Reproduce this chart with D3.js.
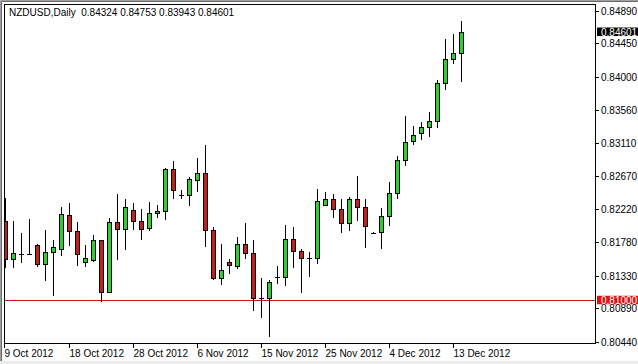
<!DOCTYPE html>
<html><head><meta charset="utf-8">
<script src="https://cdn.jsdelivr.net/npm/d3@7"></script>
<style>body{margin:0;background:#fff}svg{display:block}</style>
</head><body>
<script>
const dates = ["9 Oct 2012","10 Oct 2012","11 Oct 2012","12 Oct 2012","14 Oct 2012","15 Oct 2012","16 Oct 2012","17 Oct 2012","18 Oct 2012","19 Oct 2012",
"21 Oct 2012","22 Oct 2012","23 Oct 2012","24 Oct 2012","25 Oct 2012","26 Oct 2012","28 Oct 2012","29 Oct 2012","30 Oct 2012","31 Oct 2012",
"1 Nov 2012","2 Nov 2012","4 Nov 2012","5 Nov 2012","6 Nov 2012","7 Nov 2012","8 Nov 2012","9 Nov 2012","11 Nov 2012","12 Nov 2012",
"13 Nov 2012","14 Nov 2012","15 Nov 2012","16 Nov 2012","18 Nov 2012","19 Nov 2012","20 Nov 2012","21 Nov 2012","22 Nov 2012","23 Nov 2012",
"25 Nov 2012","26 Nov 2012","27 Nov 2012","28 Nov 2012","29 Nov 2012","30 Nov 2012","2 Dec 2012","3 Dec 2012","4 Dec 2012","5 Dec 2012",
"6 Dec 2012","7 Dec 2012","9 Dec 2012","10 Dec 2012","11 Dec 2012","12 Dec 2012","13 Dec 2012","14 Dec 2012"];

const open = [0.82064,0.81554,0.81628,0.81628,0.81742,0.81487,0.81648,0.81689,0.82145,0.81930,
0.81514,0.81541,0.81809,0.81111,0.82051,0.81957,0.82212,0.82064,0.81970,0.82172,
0.82199,0.82763,0.82414,0.82414,0.82615,0.82709,0.81944,0.81299,0.81514,0.81460,
0.81756,0.81635,0.81031,0.81031,0.81313,0.81313,0.81823,0.81662,0.81568,0.81568,
0.82279,0.82360,0.82226,0.82038,0.82360,0.82252,0.81903,0.81917,0.82132,0.82440,
0.82883,0.83138,0.83246,0.83326,0.83407,0.83917,0.84239,0.84324];

const high = [0.82373,0.82064,0.81903,0.82091,0.81756,0.81944,0.81809,0.82252,0.82306,0.82051,
0.81742,0.81877,0.81815,0.82105,0.82427,0.82360,0.82306,0.82226,0.82320,0.82279,
0.82776,0.82870,0.82481,0.82655,0.82910,0.83085,0.81984,0.81756,0.81554,0.81850,
0.82038,0.81809,0.81299,0.81272,0.81460,0.82011,0.81984,0.81689,0.81648,0.82494,
0.82454,0.82427,0.82360,0.82387,0.82669,0.82360,0.81910,0.82239,0.82588,0.82937,
0.83474,0.83340,0.83394,0.83528,0.83957,0.84508,0.84575,0.84753];

const low = [0.81447,0.81447,0.81514,0.81621,0.81460,0.81272,0.81071,0.81608,0.81742,0.81474,
0.81460,0.81530,0.80990,0.81105,0.81554,0.81689,0.81957,0.81823,0.81944,0.82118,
0.82091,0.82373,0.82373,0.82279,0.82467,0.81729,0.81290,0.81219,0.81366,0.81434,
0.81568,0.80870,0.80776,0.80521,0.81232,0.81205,0.81447,0.81111,0.81326,0.81501,
0.82279,0.82118,0.81917,0.81944,0.82078,0.81715,0.81897,0.81702,0.82011,0.82373,
0.82816,0.83098,0.83165,0.83206,0.83326,0.83837,0.84186,0.83943];

const close = [0.81554,0.81635,0.81628,0.81628,0.81487,0.81648,0.81715,0.82158,0.81930,0.81621,
0.81568,0.81809,0.81111,0.82051,0.81957,0.82252,0.82064,0.81957,0.82172,0.82199,
0.82763,0.82481,0.82414,0.82628,0.82709,0.81944,0.81299,0.81407,0.81474,0.81756,
0.81635,0.81031,0.81031,0.81246,0.81313,0.81823,0.81662,0.81568,0.81568,0.82333,
0.82360,0.82226,0.82038,0.82360,0.82252,0.81997,0.81903,0.82132,0.82440,0.82883,
0.83125,0.83219,0.83326,0.83407,0.83917,0.84239,0.84320,0.84601];

const yTicks = [0.84890,0.84450,0.84000,0.83560,0.83110,0.82670,0.82220,0.81780,0.81330,0.80890,0.80440];
const xTickIdx = [0,8,16,24,32,40,48,56];
const symbol = "NZDUSD,Daily";
const levelLine = 0.81000;

const W = 638, H = 364;
const L = 4, R = 595, T = 4, B = 343;
const FONT = "Liberation Sans, Arial, sans-serif";

const svg = d3.select("body").append("svg").attr("width", W).attr("height", H);
svg.append("rect").attr("width", W).attr("height", H).attr("fill", "#fff");

// outer window frame
svg.append("path").attr("d", `M0.5,${H}V0.5H${W}`).attr("fill","none").attr("stroke","#a0a0a0");
svg.append("path").attr("d", `M1.5,${H}V1.5H${W}`).attr("fill","none").attr("stroke","#6a6a6a");
svg.append("rect").attr("x",0).attr("y",H-3).attr("width",W).attr("height",3).attr("fill","#ececec");

const x = d3.scaleLinear().domain([0, 57]).range([5.5, 5.5 + 8*57]);
const y = d3.scaleLinear().domain([0.80440, 0.84890]).range([342, 10.5]);

svg.append("defs").append("clipPath").attr("id","plot")
  .append("rect").attr("x", L+0.5).attr("y", T+0.5).attr("width", R-L).attr("height", B-T);

const data = dates.map((d,i)=>({d, o:open[i], h:high[i], l:low[i], c:close[i], i}));
const g = svg.append("g").attr("clip-path","url(#plot)");

// level line
const ly = Math.round(y(levelLine)) + 0.5;
g.append("line").attr("x1", L).attr("x2", R).attr("y1", ly).attr("y2", ly)
  .attr("stroke", "#cc1a1a").attr("stroke-width", 1);

const px = v => Math.round(v) + 0.5;
data.forEach(k => {
  const cx = px(x(k.i) - 0.5);
  g.append("line").attr("x1", cx).attr("x2", cx)
    .attr("y1", Math.round(y(k.h))).attr("y2", Math.round(y(k.l)) + 1)
    .attr("stroke", "#000").attr("stroke-width", 1);
  const yo = Math.round(y(k.o)), yc = Math.round(y(k.c));
  if (yo === yc) {
    g.append("line").attr("x1", cx - 2.5).attr("x2", cx + 2.5)
      .attr("y1", yo + 0.5).attr("y2", yo + 0.5).attr("stroke", "#000");
  } else {
    const top = Math.min(yo, yc), bot = Math.max(yo, yc);
    g.append("rect").attr("x", cx - 2).attr("y", top + 0.5)
      .attr("width", 4).attr("height", bot - top)
      .attr("fill", k.c > k.o ? "#33cc33" : "#c0201e")
      .attr("stroke", "#000").attr("stroke-width", 1);
  }
});

// plot frame
svg.append("rect").attr("x", L+0.5).attr("y", T+0.5).attr("width", R-L).attr("height", B-T)
  .attr("fill","none").attr("stroke","#000");

// right axis
const ya = svg.append("g").attr("font-family", FONT).attr("font-size", "10px").attr("fill","#000");
yTicks.forEach(t => {
  const yy = Math.round(y(t)) + 0.5;
  ya.append("line").attr("x1", R+0.5).attr("x2", R+4).attr("y1", yy).attr("y2", yy).attr("stroke","#000");
  ya.append("text").attr("x", R+6).attr("y", yy).attr("dy","0.35em").text(t.toFixed(5));
});

// bottom axis
const xa = svg.append("g").attr("font-family", FONT).attr("font-size", "10px").attr("fill","#000");
xTickIdx.forEach(i => {
  const xx = i === 0 ? L + 0.5 : px(x(i) - 0.5);
  xa.append("line").attr("x1", xx).attr("x2", xx).attr("y1", B+0.5).attr("y2", B+5).attr("stroke","#000");
  xa.append("text").attr("x", xx).attr("y", 357).text(dates[i]);
});

// price labels
function priceBox(v, bg) {
  const yy = y(v);
  svg.append("rect").attr("x", R+2).attr("y", yy - 4.5).attr("width", W - R - 2).attr("height", 8.5).attr("fill", bg);
  svg.append("text").attr("x", R+6).attr("y", yy).attr("dy","0.35em")
    .attr("font-family", FONT).attr("font-size","10px").attr("fill","#fff").text(v.toFixed(5));
}
priceBox(levelLine, "#e01010");
priceBox(close[close.length-1], "#000");

// title
svg.append("text").attr("x", 9).attr("y", 16).attr("font-family", FONT).attr("font-size","10px").attr("fill","#000")
  .attr("xml:space","preserve")
  .text(`${symbol}  ${open[57].toFixed(5)} ${high[57].toFixed(5)} ${low[57].toFixed(5)} ${close[57].toFixed(5)}`);
</script>
</body></html>
